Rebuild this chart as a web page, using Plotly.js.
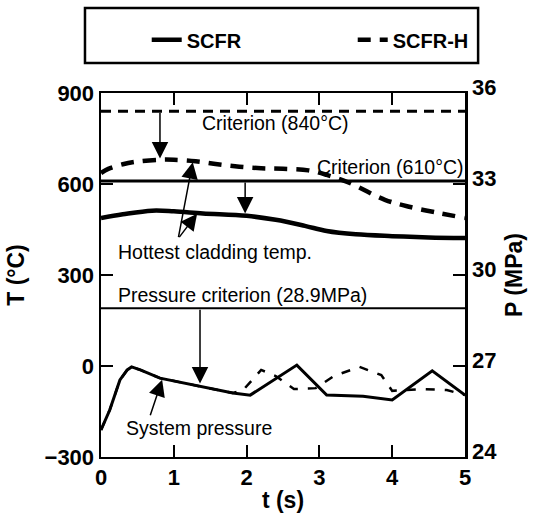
<!DOCTYPE html>
<html>
<head>
<meta charset="utf-8">
<script src="https://cdn.plot.ly/plotly-3.0.1.min.js"></script>
<style>html,body{margin:0;padding:0;background:#fff;}#chart{width:539px;height:522px;}</style>
</head>
<body>
<div id="chart"></div>
<script>
// Hottest cladding temperature (°C)
const tTempSCFR = [0, 0.3, 0.7, 1.0, 1.4, 2.0, 2.4, 2.8, 3.1, 3.5, 4.0, 4.5, 5.0];
const tempSCFR = [488, 500, 512, 510, 503, 495, 482, 462, 445, 434, 428, 424, 422];
const tTempSCFRH = [0, 0.1, 0.3, 0.5, 0.8, 1.0, 1.3, 1.6, 1.9, 2.2, 2.5, 2.85, 3.1, 3.4, 3.9, 4.25, 4.65, 5.0];
const tempSCFRH = [636, 650, 665, 674, 680, 680, 675, 665, 657, 652, 650, 645, 630, 605, 548, 524, 504, 488];
// System pressure (MPa)
const tPresSCFR = [0, 0.12, 0.26, 0.36, 0.42, 0.54, 0.81, 1.36, 1.81, 2.05, 2.69, 3.1, 3.6, 4.0, 4.55, 5.0];
const presSCFR = [24.89, 25.55, 26.54, 26.87, 26.97, 26.87, 26.6, 26.34, 26.11, 26.04, 27.03, 26.04, 26.0, 25.88, 26.84, 26.04];
const tPresSCFRH = [0, 0.12, 0.26, 0.36, 0.42, 0.54, 0.81, 1.36, 1.81, 1.95, 2.2, 2.4, 2.65, 2.95, 3.2, 3.55, 3.85, 4.0, 4.4, 4.75, 5.0];
const presSCFRH = [24.89, 25.55, 26.54, 26.87, 26.97, 26.87, 26.6, 26.34, 26.11, 26.2, 26.87, 26.67, 26.24, 26.27, 26.67, 26.97, 26.7, 26.18, 26.24, 26.21, 26.04];
// Criteria
const tSpan = [0, 5];
const critTempSCFRH = 840;
const critTempSCFR = 610;
const critPres = 28.9;
// Axes
const tTicks = [0, 1, 2, 3, 4, 5];
const tempTicks = [-300, 0, 300, 600, 900];
const presTicks = [24, 27, 30, 33, 36];

const K = '#000';
const traces = [
  {x: tSpan, y: [critTempSCFRH, critTempSCFRH], mode: 'lines', line: {color: K, width: 3, dash: '10px,7px'}, showlegend: false, hoverinfo: 'skip'},
  {x: tSpan, y: [critTempSCFR, critTempSCFR], mode: 'lines', line: {color: K, width: 3}, showlegend: false, hoverinfo: 'skip'},
  {x: tSpan, y: [critPres, critPres], yaxis: 'y2', mode: 'lines', line: {color: K, width: 2}, showlegend: false, hoverinfo: 'skip'},
  {x: tTempSCFR, y: tempSCFR, name: 'SCFR', legendgroup: 'a', mode: 'lines', line: {color: K, width: 4.5, shape: 'spline'}},
  {x: tTempSCFRH, y: tempSCFRH, name: 'SCFR-H', legendgroup: 'b', mode: 'lines', line: {color: K, width: 4.5, dash: '13px,9px', shape: 'spline'}},
  {x: tPresSCFRH, y: presSCFRH, yaxis: 'y2', name: 'SCFR-H', legendgroup: 'b', showlegend: false, mode: 'lines', line: {color: K, width: 2.5, dash: '9px,10px'}},
  {x: tPresSCFR, y: presSCFR, yaxis: 'y2', name: 'SCFR', legendgroup: 'a', showlegend: false, mode: 'lines', line: {color: K, width: 3}}
];

const txtFont = {family: 'Liberation Sans, Arial', size: 19.5, color: K};
const arrowBase = {showarrow: true, arrowhead: 2, arrowsize: 2.2, arrowwidth: 1.5, arrowcolor: K, text: '', axref: 'x'};
const annotations = [
  {x: 1.36, y: 801, xref: 'x', yref: 'y', xanchor: 'left', text: 'Criterion (840°C)', showarrow: false, font: txtFont},
  {x: 2.94, y: 656, xref: 'x', yref: 'y', xanchor: 'left', text: 'Criterion (610°C)', showarrow: false, font: txtFont},
  {x: 0.2, y: 376, xref: 'x', yref: 'y', xanchor: 'left', text: 'Hottest cladding temp.', showarrow: false, font: txtFont},
  {x: 0.2, y: 29.34, xref: 'x', yref: 'y2', xanchor: 'left', text: 'Pressure criterion (28.9MPa)', showarrow: false, font: txtFont},
  {x: 0.31, y: 24.96, xref: 'x', yref: 'y2', xanchor: 'left', text: 'System pressure', showarrow: false, font: txtFont},
  Object.assign({}, arrowBase, {x: 0.81, y: 684, xref: 'x', yref: 'y', ax: 0.81, ay: 840, ayref: 'y'}),
  Object.assign({}, arrowBase, {x: 1.98, y: 503, xref: 'x', yref: 'y', ax: 1.98, ay: 610, ayref: 'y'}),
  Object.assign({}, arrowBase, {x: 1.26, y: 672, xref: 'x', yref: 'y', ax: 1.06, ay: 420, ayref: 'y'}),
  Object.assign({}, arrowBase, {x: 1.32, y: 502, xref: 'x', yref: 'y', ax: 1.06, ay: 420, ayref: 'y'}),
  Object.assign({}, arrowBase, {x: 1.36, y: 26.42, xref: 'x', yref: 'y2', ax: 1.36, ay: 28.9, ayref: 'y2'}),
  Object.assign({}, arrowBase, {x: 0.84, y: 26.55, xref: 'x', yref: 'y2', ax: 0.67, ay: 25.33, ayref: 'y2'})
];

const tickFont = {family: 'Liberation Sans, Arial', size: 22, color: K, weight: 'bold'};
const titleFont = {family: 'Liberation Sans, Arial', size: 23, color: K, weight: 'bold'};

const layout = {
  width: 539, height: 522,
  margin: {l: 101, r: 74, t: 93, b: 65},
  paper_bgcolor: '#fff', plot_bgcolor: '#fff',
  showlegend: true,
  legend: {
    orientation: 'h', x: -0.02, y: 1.146, xanchor: 'left', yanchor: 'middle',
    borderwidth: 0, bgcolor: 'rgba(0,0,0,0)', indentation: 53,
    font: {family: 'Liberation Sans, Arial', size: 20, color: K, weight: 'bold'},
    entrywidth: 108
  },
  shapes: [
    {type: 'rect', xref: 'paper', yref: 'paper', x0: -0.044, x1: 1.036, y0: 1.0824, y1: 1.2335,
     line: {color: K, width: 2.5}, fillcolor: 'rgba(0,0,0,0)'}
  ],
  xaxis: {
    range: [0, 5], tickvals: tTicks, ticks: 'inside', ticklen: 12, tickwidth: 2, tickcolor: K,
    showline: true, linecolor: K, linewidth: 2, mirror: 'ticks', showgrid: false, zeroline: false,
    tickfont: tickFont, title: {text: 't (s)', font: titleFont, standoff: 2}
  },
  yaxis: {
    range: [-300, 900], tickvals: tempTicks, ticks: 'inside', ticklen: 12, tickwidth: 2, tickcolor: K,
    showline: true, linecolor: K, linewidth: 2.5, mirror: true, showgrid: false, zeroline: false,
    tickfont: tickFont, title: {text: 'T (°C)', font: titleFont, standoff: 14}
  },
  yaxis2: {
    range: [24, 36], tickvals: presTicks, overlaying: 'y', side: 'right',
    ticks: 'inside', ticklen: 12, tickwidth: 2, tickcolor: K,
    showline: true, linecolor: K, linewidth: 2.5, showgrid: false, zeroline: false,
    tickfont: tickFont, ticklabelshift: -6, title: {text: 'P (MPa)', font: titleFont, standoff: 10}
  },
  annotations: annotations
};

Plotly.newPlot('chart', traces, layout, {displayModeBar: false, staticPlot: true});
</script>
</body>
</html>
